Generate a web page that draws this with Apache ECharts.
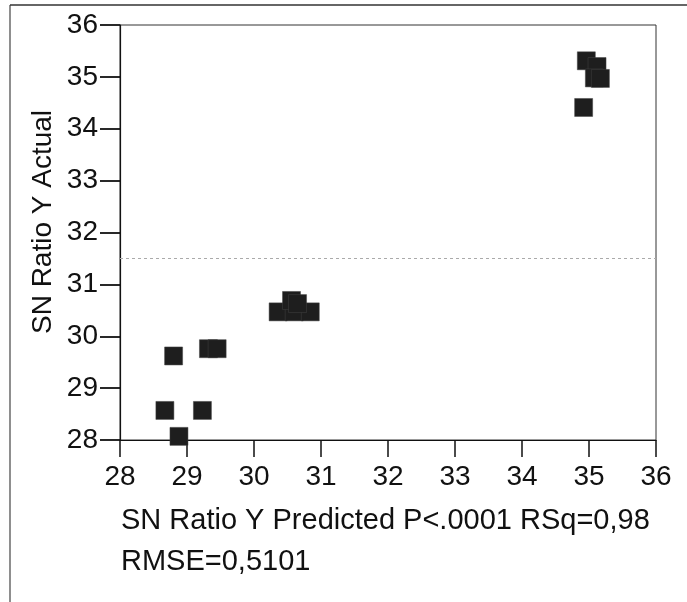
<!DOCTYPE html>
<html>
<head>
<meta charset="utf-8">
<script src="https://cdn.jsdelivr.net/npm/echarts@6/dist/echarts.min.js"></script>
<style>
html,body{margin:0;padding:0;background:#fff;}
#chart{width:687px;height:602px;}
</style>
</head>
<body>
<div id="chart"></div>
<script>
// Data
var predicted = [28.80, 28.67, 29.23, 28.88, 29.32, 29.45, 30.36, 30.60, 30.84, 30.56, 30.65, 34.96, 35.12, 35.08, 35.17, 34.92];
var actual    = [29.62, 28.57, 28.57, 28.07, 29.76, 29.76, 30.47, 30.47, 30.47, 30.69, 30.63, 35.31, 35.20, 34.98, 34.97, 34.41];
var meanActual = 31.51;
var axisMin = 28, axisMax = 36, axisStep = 1;
var xTitle = 'SN Ratio Y Predicted P<.0001 RSq=0,98';
var xTitle2 = 'RMSE=0,5101';
var yTitle = 'SN Ratio Y Actual';

var points = predicted.map(function (p, i) { return [p, actual[i]]; });

var FONT = '"Liberation Sans", Arial, sans-serif';
var chart = echarts.init(document.getElementById('chart'), null, {renderer: 'canvas'});
chart.setOption({
  animation: false,
  backgroundColor: '#fff',
  grid: {left: 120, top: 25, width: 536, height: 415, show: true, borderColor: '#333', borderWidth: 1, backgroundColor: 'transparent'},
  xAxis: {
    type: 'value', min: axisMin, max: axisMax, interval: axisStep,
    axisLine: {show: true, onZero: false, lineStyle: {color: '#111', width: 1.2}},
    axisTick: {show: true, inside: false, length: 17, lineStyle: {color: '#111', width: 1.5}},
    axisLabel: {margin: 23, fontSize: 28, color: '#111', fontFamily: FONT},
    splitLine: {show: false}
  },
  yAxis: {
    type: 'value', min: axisMin, max: axisMax, interval: axisStep,
    axisLine: {show: true, onZero: false, lineStyle: {color: '#111', width: 1.2}},
    axisTick: {show: true, inside: false, length: 20, lineStyle: {color: '#111', width: 1.8}},
    axisLabel: {margin: 22, fontSize: 28, color: '#111', fontFamily: FONT},
    splitLine: {show: false}
  },
  series: [{
    type: 'scatter',
    data: points,
    symbol: 'rect',
    symbolSize: 18,
    itemStyle: {color: '#1e1e1e', opacity: 1, borderColor: '#444', borderWidth: 0.5},
    markLine: {
      silent: true,
      symbol: ['none', 'none'],
      label: {show: false},
      lineStyle: {color: '#aaa', type: [3, 3], width: 1},
      data: [{yAxis: meanActual}]
    }
  }],
  graphic: [
    {type: 'line', shape: {x1: 10, y1: 5, x2: 10, y2: 602}, style: {stroke: '#444', lineWidth: 1.2}},
    {type: 'line', shape: {x1: 10, y1: 5, x2: 687, y2: 5}, style: {stroke: '#333', lineWidth: 1.5}},
    {type: 'text', left: 121, top: 506, style: {text: xTitle, font: '29px ' + FONT, fill: '#111'}},
    {type: 'text', left: 121, top: 547, style: {text: xTitle2, font: '29px ' + FONT, fill: '#111'}},
    {type: 'text', x: 43, y: 222, rotation: Math.PI / 2,
     style: {text: yTitle, font: '28px ' + FONT, fill: '#111', align: 'center', verticalAlign: 'middle'}}
  ]
});
</script>
</body>
</html>
